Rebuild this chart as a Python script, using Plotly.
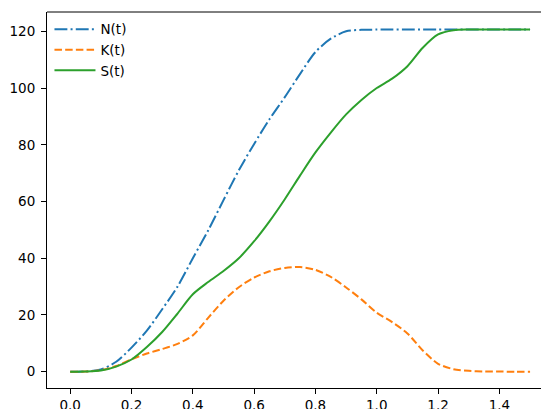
import plotly.graph_objects as go

t = [round(0.05 * i, 2) for i in range(31)]

N_t = [0.0, 0.1, 0.8, 3.5, 8.5, 14.5, 22.0, 30.0, 40.0, 49.8, 60.5, 71.0, 80.3,
       89.0, 96.8, 105.0, 112.7, 117.4, 120.0, 120.5, 120.6, 120.6, 120.6, 120.6,
       120.6, 120.6, 120.6, 120.6, 120.6, 120.6, 120.6]

K_t = [0.0, 0.05, 0.5, 2.0, 4.4, 6.4, 8.0, 9.8, 12.8, 19.0, 25.0, 29.8, 33.2,
       35.4, 36.6, 36.9, 35.9, 33.4, 29.7, 25.5, 20.8, 17.5, 13.5, 7.5, 2.8, 0.9,
       0.3, 0.1, 0.05, 0.0, 0.0]

S_t = [0.0, 0.05, 0.4, 1.8, 4.3, 8.7, 14.0, 20.5, 27.3, 31.6, 35.5, 40.0, 46.0,
       53.0, 60.8, 69.2, 77.3, 84.3, 90.7, 95.8, 100.0, 103.3, 107.7, 114.2, 118.9,
       120.4, 120.6, 120.6, 120.6, 120.6, 120.6]

x_ticks = [0.0, 0.2, 0.4, 0.6, 0.8, 1.0, 1.2, 1.4]
y_ticks = [0, 20, 40, 60, 80, 100, 120]

fig = go.Figure()
fig.add_trace(go.Scatter(x=t, y=N_t, name="N(t)", mode="lines",
                         line=dict(color="#1f77b4", width=2, dash="12.9px,3.2px,2px,3.2px",
                                   shape="spline", smoothing=0.8)))
fig.add_trace(go.Scatter(x=t, y=K_t, name="K(t)", mode="lines",
                         line=dict(color="#ff7f0e", width=2, dash="7.5px,3.2px",
                                   shape="spline", smoothing=0.8)))
fig.add_trace(go.Scatter(x=t, y=S_t, name="S(t)", mode="lines",
                         line=dict(color="#2ca02c", width=2,
                                   shape="spline", smoothing=0.8)))

font = dict(family="DejaVu Sans", size=13.5, color="#000000")
fig.update_layout(
    width=541, height=409,
    margin=dict(l=47, r=0, t=12, b=21, autoexpand=False),
    paper_bgcolor="white", plot_bgcolor="white",
    font=font,
    showlegend=True,
    legend=dict(x=0.005, y=0.995, xanchor="left", yanchor="top",
                bgcolor="rgba(0,0,0,0)", font=font, tracegroupgap=0,
                itemwidth=41),
    xaxis=dict(range=[-0.0757, 1.5357], tickvals=x_ticks, tickformat=".1f",
               showgrid=False, zeroline=False, showline=True, linecolor="#000000",
               linewidth=1, ticks="outside", ticklen=5, tickcolor="#000000",
               mirror=False, automargin=False, ticklabelstandoff=0),
    yaxis=dict(range=[-5.74, 126.8], tickvals=y_ticks,
               showgrid=False, zeroline=False, showline=True, linecolor="#000000",
               linewidth=1, ticks="outside", ticklen=5, tickcolor="#000000",
               mirror=False, automargin=False, ticklabelstandoff=3),
    shapes=[dict(type="line", xref="paper", yref="paper", x0=0, x1=1, y0=1, y1=1,
                 line=dict(color="#000000", width=1))],
)

fig.write_html("out.html", config={"displayModeBar": False},
               post_script="document.body.style.margin='0';document.body.style.overflow='hidden';")
